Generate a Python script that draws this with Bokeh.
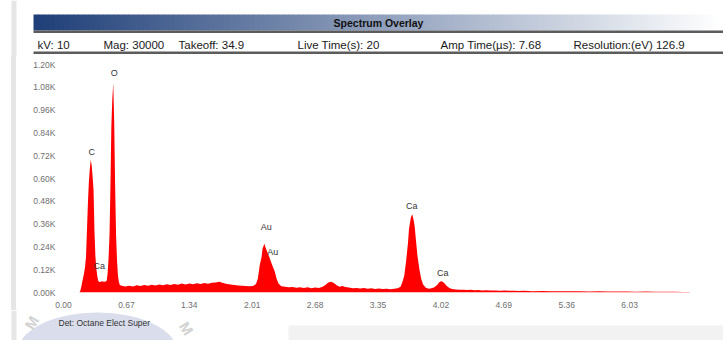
from bokeh.plotting import figure
from bokeh.layouts import column, row
from bokeh.models import Range1d, FixedTicker, NumeralTickFormatter, CustomJSTickFormatter, Div
from bokeh.core.properties import value
from bokeh.embed import file_html
from bokeh.resources import INLINE

# ---------------- data ----------------
energy_kev = [
    0.17, 0.18, 0.19, 0.20, 0.21, 0.22, 0.23, 0.24, 0.25, 0.26, 0.27, 0.28, 0.29, 0.30, 0.31, 0.32, 0.33, 0.34, 0.35, 0.36, 0.37, 0.38,
    0.39, 0.41, 0.43,
    0.45, 0.46, 0.47, 0.48, 0.49, 0.50, 0.51, 0.52, 0.53, 0.54, 0.55, 0.56, 0.57, 0.58, 0.59, 0.60,
    0.62, 0.66, 0.70, 0.74, 0.78, 0.82, 0.86, 0.90, 0.94, 0.98, 1.02, 1.06, 1.10, 1.14, 1.18, 1.22, 1.26, 1.30,
    1.34, 1.38, 1.42, 1.46, 1.50, 1.54, 1.58, 1.62, 1.66, 1.70, 1.74, 1.78, 1.82, 1.86, 1.90, 1.94, 1.98,
    2.02, 2.05, 2.07, 2.09, 2.11, 2.12, 2.14, 2.15, 2.17, 2.19, 2.21, 2.23, 2.25, 2.27, 2.29, 2.32,
    2.36, 2.40, 2.44, 2.48, 2.52, 2.56, 2.60, 2.64, 2.68, 2.72,
    2.76, 2.79, 2.82, 2.85, 2.88, 2.91, 2.94,
    2.97, 3.00, 3.04, 3.08, 3.12, 3.16, 3.20, 3.24, 3.28, 3.32, 3.36, 3.40, 3.44, 3.48, 3.52, 3.56,
    3.59, 3.61, 3.63, 3.65, 3.67, 3.68, 3.70, 3.715, 3.73, 3.74, 3.755, 3.77, 3.79, 3.81, 3.83, 3.86, 3.89, 3.92,
    3.95, 3.98, 4.00, 4.02, 4.04, 4.06, 4.08, 4.11, 4.14,
    4.18, 4.22, 4.26, 4.30, 4.34, 4.38, 4.42, 4.46, 4.50, 4.55, 4.60, 4.65, 4.70, 4.75, 4.80, 4.85, 4.90, 4.95,
    5.00, 5.10, 5.20, 5.30, 5.40, 5.50, 5.60, 5.70, 5.80, 5.90, 6.00, 6.10, 6.20, 6.30, 6.40, 6.50, 6.60, 6.66, 6.68,
]
counts = [
    0, 10, 32, 57, 80, 105, 135, 190, 330, 470, 580, 650, 699, 670, 610, 540, 320, 190, 125, 85, 60, 56,
    55, 59, 56,
    58, 62, 100, 180, 300, 560, 880, 1020, 1100, 900, 560, 300, 170, 90, 55, 40,
    36, 31, 36, 32, 38, 34, 40, 35, 41, 37, 42, 38, 43, 39, 45, 41, 47, 42,
    48, 44, 49, 45, 50, 46, 51, 53, 56, 50, 45, 42, 39, 37, 35, 34, 33,
    34, 45, 73, 143, 187, 230, 256, 240, 215, 190, 162, 135, 110, 73, 47, 33,
    30, 27, 29, 25, 28, 24, 27, 23, 26, 24,
    30, 40, 52, 57, 50, 38, 30,
    34, 29, 26, 23, 24, 21, 24, 20, 22, 19, 21, 18, 20, 17, 20, 22,
    30, 55, 90, 169, 264, 334, 395, 412, 380, 351, 273, 195, 125, 73, 42, 25, 20, 22,
    28, 40, 52, 59, 57, 48, 35, 24, 18,
    16, 14, 15, 13, 14, 12, 13, 11, 12, 10, 11, 9, 10, 9, 9, 8, 9, 8,
    7, 8, 7, 6, 7, 6, 5, 6, 5, 5, 5, 4, 5, 4, 4, 4, 3, 3, 0,
]
assert len(energy_kev) == len(counts)

x_ticks = [0.00, 0.67, 1.34, 2.01, 2.68, 3.35, 4.02, 4.69, 5.36, 6.03]
y_ticks = [0, 120, 240, 360, 480, 600, 720, 840, 960, 1080, 1200]

peak_names = ["C", "O", "Ca", "Au", "Au", "Ca", "Ca"]
peak_x = [0.30, 0.54, 0.38, 2.16, 2.23, 3.71, 4.04]
peak_y = [741, 1153, 141, 344, 214, 454, 104]

header_title = "Spectrum Overlay"
info_texts = ["kV: 10", "Mag: 30000", "Takeoff: 34.9", "Live Time(s): 20",
              "Amp Time(\u00b5s): 7.68", "Resolution:(eV) 126.9"]
detector_text = "Det: Octane Elect Super"
watermark_text = ["M", "M"]

# ---------------- layout / style ----------------
FONT = "Liberation Sans"
W = 723
HDR_B, FTR_T, H = 56, 310, 340
STRIP_R = 30
info_x = [37, 103, 178, 297, 440, 573]
wm_pos = [(31, 322, 60), (186, 328, -58)]
WM_COLOR = "#d2d2d2"
STRIP_COLOR = "#e6e6e6"


def pixel_fig(x0, x1, y0, y1):
    f = figure(width=x1 - x0, height=y1 - y0, x_range=Range1d(x0, x1), y_range=Range1d(y1, y0),
               x_axis_type=None, y_axis_type=None, output_backend="svg", toolbar_location=None,
               min_border=0, outline_line_color=None, background_fill_color="white",
               border_fill_color="white")
    f.grid.visible = False
    return f


# header
hdr = pixel_fig(0, W, 0, HDR_B)
hdr.quad(left=[11], right=[16], top=[0], bottom=[HDR_B], fill_color=STRIP_COLOR, line_color=None)
c0 = (31, 63, 120)
n = 138
lefts = [33 + 5 * i for i in range(n)]
rights = [l + 5.5 for l in lefts]
cols = []
for i in range(n):
    t = i / (n - 1)
    r, g, b = (int(round(c + (255 - c) * t)) for c in c0)
    cols.append("#%02x%02x%02x" % (r, g, b))
hdr.quad(left=lefts, right=rights, top=[14] * n, bottom=[30] * n, fill_color=cols, line_color=None)
hdr.text(x=[378], y=[22.5], text=[header_title], text_font=value(FONT), text_font_style="bold",
         text_font_size="10.5px", text_align="center", text_baseline="middle", text_color="#111111")
hdr.quad(left=[33], right=[W], top=[30], bottom=[32.5], fill_color="#5c5c5c", line_color=None)
hdr.text(x=info_x, y=[44.5] * len(info_x), text=info_texts, text_font=value(FONT),
         text_font_size="11.5px", text_align="left", text_baseline="middle", text_color="#1a1a1a")
hdr.quad(left=[33], right=[W], top=[51], bottom=[53.5], fill_color="#5c5c5c", line_color=None)

# left strip for main row (plain block, so no frame alignment applies)
strip = Div(text="", width=STRIP_R, height=FTR_T - HDR_B, margin=0,
            styles={"background": "linear-gradient(to right, #ffffff 0px, #ffffff 11px, %s 11px, %s 16px, #ffffff 16px)" % (STRIP_COLOR, STRIP_COLOR),
                    "padding": "0px"})

# main spectrum (frame: x 62..692, y 64..294 in page pixels)
p = figure(width=W - STRIP_R, height=FTR_T - HDR_B, x_range=Range1d(0, 6.70), y_range=Range1d(0, 1200),
           output_backend="svg", toolbar_location=None,
           min_border_left=62 - STRIP_R, min_border_right=W - 692, min_border_top=64 - HDR_B,
           min_border_bottom=FTR_T - 294,
           outline_line_color=None, background_fill_color="white", border_fill_color="white")
p.grid.visible = False
p.varea(x=energy_kev, y1=0, y2=counts, fill_color="#ff0000", fill_alpha=1.0)
p.text(x=peak_x, y=peak_y, text=peak_names, text_font=value(FONT), text_font_size="9px",
       text_align="center", text_baseline="middle", text_color="#333333")

p.xaxis.ticker = FixedTicker(ticks=x_ticks)
p.xaxis.formatter = NumeralTickFormatter(format="0.00")
p.yaxis.ticker = FixedTicker(ticks=y_ticks)
p.yaxis.formatter = CustomJSTickFormatter(code="return (tick/1000).toFixed(2) + 'K';")
for ax in (p.xaxis, p.yaxis):
    ax.axis_line_color = None
    ax.major_tick_line_color = None
    ax.minor_tick_line_color = None
    ax.major_label_text_font = FONT
    ax.major_label_text_font_size = "8.5px"
    ax.major_label_text_color = "#707070"
p.xaxis.major_label_standoff = 3
p.yaxis.major_label_standoff = 2

# footer
ftr = pixel_fig(0, W, FTR_T, H)
ftr.quad(left=[11], right=[16], top=[FTR_T], bottom=[H], fill_color=STRIP_COLOR, line_color=None)
ftr.ellipse(x=[97], y=[352], width=160, height=80, fill_color="#dadeec", line_color=None)
ftr.quad(left=[288], right=[W], top=[325], bottom=[H], fill_color="#f2f2f2", line_color=None)
for ch, (X, Y, ang) in zip(watermark_text, wm_pos):
    ftr.text(x=[X], y=[Y], text=[ch], angle=ang, angle_units="deg", text_font=value(FONT),
             text_font_size="15px", text_font_style="bold", text_color=WM_COLOR,
             text_align="center", text_baseline="middle")
ftr.text(x=[58], y=[322], text=[detector_text], text_font=value(FONT), text_font_size="8.5px",
         text_align="left", text_baseline="middle", text_color="#333333")

layout = column(hdr, row(strip, p), ftr)
open("out.html", "w").write(file_html(layout, INLINE))
